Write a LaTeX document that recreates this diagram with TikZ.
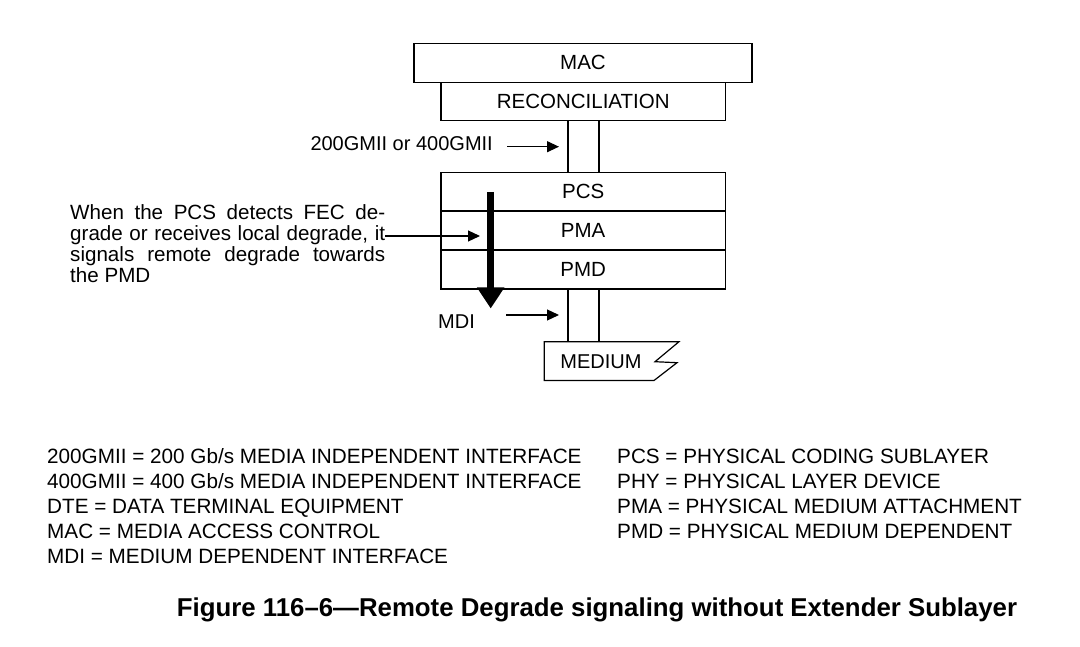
\documentclass[tikz,border=0pt]{standalone}
\usepackage{fontspec}
\setmainfont{Liberation Sans}
\usetikzlibrary{arrows.meta}
\newcommand\fsz[2]{\fontsize{#1}{#2}\selectfont}
\begin{document}
\begin{tikzpicture}[x=1pt,y=-1pt,
  lw/.style={line width=1.2pt},
  box/.style={draw,lw,inner sep=0pt,font=\fsz{20.5}{22}},
  iface/.style={draw,lw,inner sep=0pt,minimum width=31pt},
  thin/.style={lw,-{Triangle[length=12pt,width=11pt]}},
  thick/.style={line width=7pt,-{Triangle[length=21pt,width=26pt]}},
  legend/.style={anchor=base west,inner sep=0pt,font=\fsz{20.7}{22}},
  label/.style={inner sep=0pt,font=\fsz{20}{22}}]
\useasboundingbox (0,0) rectangle (1080,647);
\fill[white] (0,0) rectangle (1080,647);
% stack
\node[box,minimum width=338pt,minimum height=39pt] (mac) at (583,62.8) {MAC};
\node[box,minimum width=284.5pt,minimum height=38.4pt] (rec) at (583.2,101.5) {RECONCILIATION};
\node[iface,minimum height=51.6pt] (gmii) at (583.5,146.5) {};
\node[box,minimum width=284.5pt,minimum height=38.7pt] (pcs) at (583.2,191.6) {PCS};
\node[box,minimum width=284.5pt,minimum height=39pt] (pma) at (583.2,230.5) {PMA};
\node[box,minimum width=284.5pt,minimum height=39pt] (pmd) at (583.2,269.5) {PMD};
\node[iface,minimum height=52.7pt] (mdi) at (583.5,315.3) {};
% medium
\draw[lw] (544.3,341.7) -- (679,341.7) -- (655,361.7) -- (677,362.7) -- (654,380.5) -- (544.3,380.5) -- cycle;
\node[label] (medium) at (601,361.5) {MEDIUM};
% labels and arrows
\node[label,anchor=east] (gmiilbl) at (493,144) {200GMII or 400GMII};
\coordinate (ga) at (507,146.7);
\coordinate (gb) at (559,146.7);
\draw[thin] (ga) -- (gb);
\node[label,anchor=west] (mdilbl) at (438,321.5) {MDI};
\coordinate (ma) at (506,315);
\coordinate (mb) at (559,315);
\draw[thin] (ma) -- (mb);
\node[label,anchor=north west,align=left,font=\fsz{20.6}{21}] (note) at (70,204.5)
 {\makebox[315pt][s]{When the PCS detects FEC de-}\\
  \makebox[315pt][s]{grade or receives local degrade, it}\\
  \makebox[315pt][s]{signals remote degrade towards}\\
  the PMD};
\coordinate (na) at (385,236);
\coordinate (nb) at (480,236);
\draw[thin] (na) -- (nb);
\coordinate (ta) at (490.7,192);
\coordinate (tb) at (490.7,308.5);
\draw[thick] (ta) -- (tb);
% legend
\node[legend] (l1) at (47,463) {200GMII = 200 Gb/s MEDIA INDEPENDENT INTERFACE};
\node[legend] (l2) at (47,488) {400GMII = 400 Gb/s MEDIA INDEPENDENT INTERFACE};
\node[legend] (l3) at (47,513) {DTE = DATA TERMINAL EQUIPMENT};
\node[legend] (l4) at (47,538) {MAC = MEDIA ACCESS CONTROL};
\node[legend] (l5) at (47,563) {MDI = MEDIUM DEPENDENT INTERFACE};
\node[legend] (r1) at (617,463) {PCS = PHYSICAL CODING SUBLAYER};
\node[legend] (r2) at (617,488) {PHY = PHYSICAL LAYER DEVICE};
\node[legend] (r3) at (617,513) {PMA = PHYSICAL MEDIUM ATTACHMENT};
\node[legend] (r4) at (617,538) {PMD = PHYSICAL MEDIUM DEPENDENT};
% title
\node[anchor=base,inner sep=0pt,font=\bfseries\fsz{25.8}{28}] (title) at (597,616)
 {Figure 116–6—Remote Degrade signaling without Extender Sublayer};
\end{tikzpicture}
\end{document}
